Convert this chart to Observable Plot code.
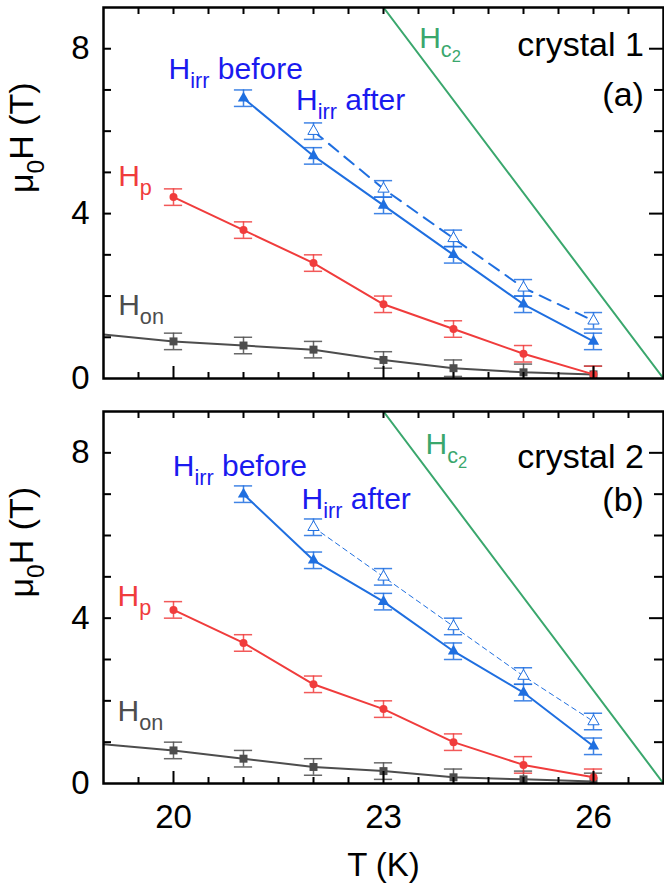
<!DOCTYPE html>
<html><head><meta charset="utf-8">
<script src="https://cdn.jsdelivr.net/npm/d3@7"></script>
<script src="https://cdn.jsdelivr.net/npm/@observablehq/plot@0.6"></script>
<style>
html,body{margin:0;padding:0;background:#fff;}
#chart svg{display:block;}
</style></head><body><div id="chart"></div>
<script>
// ---- data (T in K, mu0H in T) ----
const temps = [20, 21, 22, 23, 24, 25, 26];
const hirrBeforeTemps = [21, 22, 23, 24, 25, 26];
const hirrAfterTemps = [22, 23, 24, 25, 26];
const honLineTemps = [19, 20, 21, 22, 23, 24, 25, 26];

const hirrBeforeA = [6.8, 5.4, 4.2, 3.0, 1.8, 0.9];
const hirrAfterA = [6.0, 4.6, 3.4, 2.2, 1.4];
const hpA = [4.4, 3.6, 2.8, 1.8, 1.2, 0.6, 0.1];
const honA = [0.9, 0.8, 0.7, 0.45, 0.25, 0.15, 0.1];
const honLineA = [1.07, 0.9, 0.8, 0.7, 0.45, 0.25, 0.15, 0.1];

const hirrBeforeB = [7.0, 5.4, 4.4, 3.2, 2.2, 0.9];
const hirrAfterB = [6.2, 5.0, 3.8, 2.6, 1.5];
const hpB = [4.2, 3.4, 2.4, 1.8, 1.0, 0.45, 0.15];
const honB = [0.8, 0.6, 0.4, 0.3, 0.15, 0.1, 0.05];
const honLineB = [0.95, 0.8, 0.6, 0.4, 0.3, 0.15, 0.1, 0.05];

const hc2Temps = [23, 27];
const hc2Values = [9, 0];
const errValue = 0.2;

const seriesLabels = ["H_{irr} before", "H_{irr} after", "H_{p}", "H_{on}", "H_{c_{2}}"];
const labelTA = [19.93, 21.75, 19.21, 19.21, 23.51];
const labelHA = [7.26, 6.51, 4.68, 1.55, 8.02];
const labelTB = [19.99, 21.83, 19.2, 19.2, 23.6];
const labelHB = [7.45, 6.65, 4.29, 1.52, 7.96];
const crystalLabelsA = ["crystal 1", "(a)"];
const crystalLabelsB = ["crystal 2", "(b)"];
const crystalT = 26.72;
const crystalHA = [7.82, 6.6];
const crystalHB = [7.64, 6.6];

const xTickLabels = [20, 23, 26];
const xMajorTicks = [20, 23, 26];
const xMinorTicks = [19.5, 20.5, 21, 21.5, 22, 22.5, 23.5, 24, 24.5, 25, 25.5, 26.5];
const yTickLabels = [0, 4, 8];
const yMajorTicks = [4, 8];
const yMinorTicks = [1, 2, 3, 5, 6, 7];

// ---- styles ----
const FONT = "'Liberation Sans', Arial, Helvetica, sans-serif";
const cBlue = "#1f6fe0", cBlueText = "#1a1aef", cRed = "#f03c3c", cGray = "#4d4d4d", cGreen = "#3aa76d";
const labelColors = [cBlueText, cBlueText, cRed, cGray, cGreen];
const capHalf = 0.13;

const rows = (ts, hs) => ts.map((t, i) => ({T: t, H: hs[i]}));

function errorBars(data, color) {
  const o = {stroke: color, strokeWidth: 1.5, strokeOpacity: 0.85, clip: true};
  return [
    Plot.ruleX(data, {x: "T", y1: d => d.H - errValue, y2: d => d.H + errValue, ...o}),
    Plot.ruleY(data, {y: d => d.H - errValue, x1: d => d.T - capHalf, x2: d => d.T + capHalf, ...o}),
    Plot.ruleY(data, {y: d => d.H + errValue, x1: d => d.T - capHalf, x2: d => d.T + capHalf, ...o})
  ];
}

function panel(p) {
  const W = 664 - p.ml - p.mr;
  const Hh = p.height - p.mt - p.mb;
  const before = rows(hirrBeforeTemps, p.before);
  const after = rows(hirrAfterTemps, p.after);
  const hp = rows(temps, p.hp);
  const hon = rows(temps, p.hon);
  const honLine = rows(honLineTemps, p.honLine);
  const hc2 = rows(hc2Temps, hc2Values);
  const labels = seriesLabels.map((s, i) => ({text: s, T: p.labelT[i], H: p.labelH[i], color: labelColors[i]}));
  const crystal = p.crystal.map((s, i) => ({text: s, T: crystalT, H: p.crystalH[i]}));
  const tk = {stroke: "black", strokeWidth: 2};
  return Plot.plot({
    width: 664, height: p.height,
    marginTop: p.mt, marginBottom: p.mb, marginLeft: p.ml, marginRight: p.mr,
    style: {fontFamily: FONT, fontSize: "33px", background: "white", color: "black"},
    x: p.showX ? {domain: [19, 27], ticks: xTickLabels, tickSize: 0, tickPadding: 21, label: null}
               : {domain: [19, 27], axis: null},
    y: {domain: [0, 9], ticks: yTickLabels, tickSize: 0, tickPadding: 14, label: null},
    color: {type: "identity"},
    marks: [
      Plot.line(hc2, {x: "T", y: "H", stroke: cGreen, strokeWidth: 2, clip: true}),
      Plot.line(honLine, {x: "T", y: "H", stroke: cGray, strokeWidth: 2, clip: true}),
      ...errorBars(hon, cGray),
      Plot.dot(hon, {x: "T", y: "H", symbol: "square", r: 4.5, fill: cGray, clip: true}),
      Plot.line(hp, {x: "T", y: "H", stroke: cRed, strokeWidth: 2, clip: true}),
      ...errorBars(hp, cRed),
      Plot.dot(hp, {x: "T", y: "H", symbol: "circle", r: 4, fill: cRed, clip: true}),
      Plot.line(after, {x: "T", y: "H", stroke: cBlue, strokeWidth: p.dashWidth, strokeDasharray: p.dash}),
      ...errorBars(after, cBlue),
      Plot.dot(after, {x: "T", y: "H", symbol: "triangle", r: 4.2, fill: "white", stroke: cBlue, strokeWidth: 1}),
      Plot.line(before, {x: "T", y: "H", stroke: cBlue, strokeWidth: 2}),
      ...errorBars(before, cBlue),
      Plot.dot(before, {x: "T", y: "H", symbol: "triangle", r: 4.2, fill: cBlue}),
      Plot.text(labels, {x: "T", y: "H", text: "text", fill: "color", textAnchor: "start", lineAnchor: "bottom", fontSize: 30}),
      Plot.text(crystal, {x: "T", y: "H", text: "text", fill: "black", textAnchor: "end", lineAnchor: "bottom", fontSize: 34}),
      // inward ticks on all four sides
      Plot.ruleX(xMinorTicks, {...tk, insetTop: Hh - 6}),
      Plot.ruleX(xMajorTicks, {...tk, insetTop: Hh - 12}),
      Plot.ruleX(xMinorTicks.concat(xMajorTicks), {...tk, insetBottom: Hh - 7}),
      Plot.ruleY(yMinorTicks.concat(yMajorTicks), {...tk, insetRight: W - 8}),
      Plot.ruleY(yMinorTicks, {...tk, insetLeft: W - 9}),
      Plot.ruleY(yMajorTicks, {...tk, insetLeft: W - 14}),
      Plot.frame({stroke: "black", strokeWidth: 2.5}),
      Plot.text(["μ_{0}H (T)"], {frameAnchor: "left", rotate: -90, dx: -81, lineAnchor: "middle", fontSize: 34}),
      ...(p.showX ? [Plot.text(["T (K)"], {frameAnchor: "bottom", lineAnchor: "top", dy: 69, fontSize: 33})] : [])
    ]
  });
}

function parseRich(s) {
  const out = []; let lvl = 0, buf = "";
  for (let i = 0; i < s.length; i++) {
    if (s[i] === "_" && s[i + 1] === "{") { if (buf) out.push({t: buf, lvl}); buf = ""; lvl++; i++; }
    else if (s[i] === "}") { if (buf) out.push({t: buf, lvl}); buf = ""; lvl--; }
    else buf += s[i];
  }
  if (buf) out.push({t: buf, lvl});
  return out;
}

function richify(svg) {
  d3.select(svg).selectAll("text").each(function () {
    const s = this.textContent;
    if (!s.includes("_{")) return;
    const fs = parseFloat(getComputedStyle(this).fontSize) || 30;
    const offs = [0, 0.3, 0.46], sizes = [1, 0.72, 0.55];
    const sel = d3.select(this);
    sel.text(null);
    let cur = 0;
    for (const seg of parseRich(s)) {
      const off = offs[seg.lvl] * fs;
      sel.append("tspan").attr("dy", (off - cur).toFixed(2)).attr("font-size", (sizes[seg.lvl] * fs).toFixed(1)).text(seg.t);
      cur = off;
    }
  });
}

const chartA = panel({height: 395, mt: 7, mb: 17, ml: 103, mr: 1,
  before: hirrBeforeA, after: hirrAfterA, hp: hpA, hon: honA, honLine: honLineA,
  labelT: labelTA, labelH: labelHA, crystal: crystalLabelsA, crystalH: crystalHA,
  dash: "12,8", dashWidth: 2, showX: false});
const chartB = panel({height: 490, mt: 16, mb: 102, ml: 103, mr: 1,
  before: hirrBeforeB, after: hirrAfterB, hp: hpB, hon: honB, honLine: honLineB,
  labelT: labelTB, labelH: labelHB, crystal: crystalLabelsB, crystalH: crystalHB,
  dash: "5,4", dashWidth: 1, showX: true});

const root = document.getElementById("chart");
root.appendChild(chartA);
root.appendChild(chartB);
richify(chartA);
richify(chartB);
</script>
</body></html>
